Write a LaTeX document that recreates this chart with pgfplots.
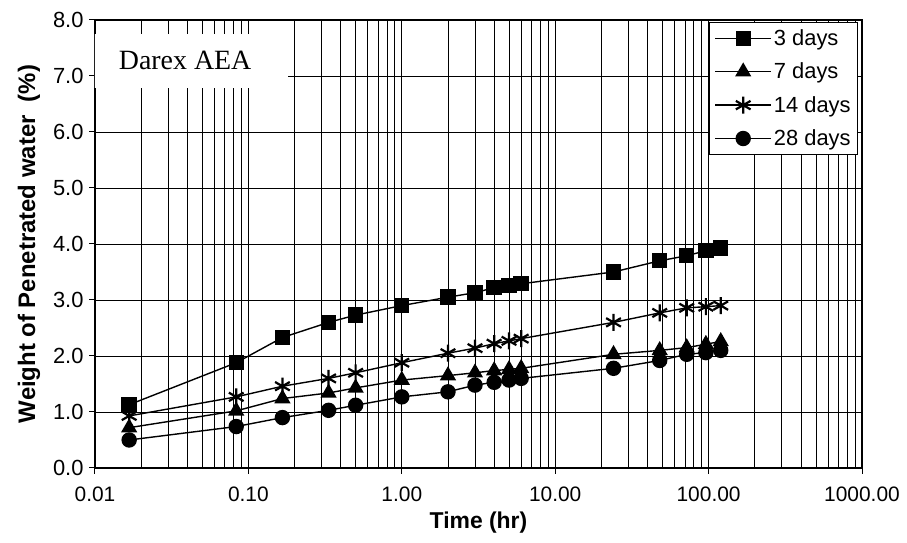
\documentclass[border=0pt]{standalone}
\usepackage{fontspec}
\setmainfont{Liberation Sans}
\newfontfamily\seriffont{Liberation Serif}
\usepackage{pgfplots}
\pgfplotsset{compat=1.18}
\usetikzlibrary{calc}
\begin{document}
\begin{tikzpicture}
\begin{axis}[
  scale only axis, width=767bp, height=448bp,
  xmode=log, xmin=0.01, xmax=1000, ymin=0, ymax=8,
  xtick={0.01,0.1,1,10,100,1000},
  xticklabels={0.01,0.10,1.00,10.00,100.00,1000.00},
  minor xtick={0.02,0.03,0.04,0.05,0.06,0.07,0.08,0.09,0.2,0.3,0.4,0.5,0.6,0.7,0.8,0.9,2,3,4,5,6,7,8,9,20,30,40,50,60,70,80,90,200,300,400,500,600,700,800,900},
  ytick={0,1,2,3,4,5,6,7,8},
  yticklabels={0.0,1.0,2.0,3.0,4.0,5.0,6.0,7.0,8.0},
  xmajorgrids, xminorgrids, ymajorgrids,
  major grid style={black, line width=0.8bp},
  minor grid style={black, line width=0.6bp},
  axis line style={line width=1.6bp},
  tick align=outside, xtick pos=left, ytick pos=left,
  major tick length=6bp, minor tick length=0bp,
  tick style={black, line width=1bp},
  xticklabel style={font=\fontsize{21}{24}\selectfont, yshift=-9bp},
  yticklabel style={font=\fontsize{22}{24}\selectfont, xshift=-2bp},
  xlabel={\bfseries Time (hr)},
  ylabel={\bfseries Weight of Penetrated water\ \ (\%)},
  label style={font=\fontsize{23}{26}\selectfont},
  xlabel style={yshift=-4bp},
  ylabel style={font=\fontsize{24}{26}\selectfont, yshift=6bp},
  legend style={at={(0.995,0.995)}, anchor=north east, draw=black, line width=1bp, fill=white,
    font=\fontsize{22}{24}\selectfont, row sep=12bp, inner sep=5bp},
  legend cell align=left,
  legend image code/.code={\draw[mark repeat=2,mark phase=2,#1] plot coordinates {(0bp,0bp) (28bp,0bp) (56bp,0bp)};},
  every axis plot/.append style={black, line width=1.4bp},
]
\addplot[mark=square*, mark size=7bp] coordinates {
(0.0167,1.13)(0.0833,1.88)(0.1667,2.33)(0.3333,2.60)(0.5,2.73)(1,2.90)(2,3.05)(3,3.13)(4,3.22)(5,3.26)(6,3.29)(24,3.50)(48,3.70)(72,3.79)(96,3.88)(120,3.93)};
\addlegendentry{3 days}
\addplot[mark=triangle*, mark size=8bp] coordinates {
(0.0167,0.72)(0.0833,1.02)(0.1667,1.24)(0.3333,1.34)(0.5,1.43)(1,1.57)(2,1.65)(3,1.70)(4,1.74)(5,1.76)(6,1.78)(24,2.03)(48,2.10)(72,2.15)(96,2.21)(120,2.26)};
\addlegendentry{7 days}
\addplot[mark=asterisk, mark size=8.5bp, mark options={line width=2.2bp}] coordinates {
(0.0167,0.93)(0.0833,1.27)(0.1667,1.46)(0.3333,1.60)(0.5,1.70)(1,1.88)(2,2.05)(3,2.14)(4,2.22)(5,2.27)(6,2.31)(24,2.60)(48,2.77)(72,2.86)(96,2.88)(120,2.90)};
\addlegendentry{14 days}
\addplot[mark=*, mark size=7bp] coordinates {
(0.0167,0.50)(0.0833,0.74)(0.1667,0.90)(0.3333,1.03)(0.5,1.12)(1,1.27)(2,1.36)(3,1.48)(4,1.53)(5,1.57)(6,1.60)(24,1.78)(48,1.92)(72,2.03)(96,2.06)(120,2.10)};
\addlegendentry{28 days}
\node[fill=white, minimum width=205bp, minimum height=54bp, inner sep=0pt, font=\seriffont\fontsize{28}{32}\selectfont] at (axis cs:0.0387,7.27) {Darex AEA};
\end{axis}
\path ($(current axis.south west)+(-95bp,-75bp)$) rectangle ($(current axis.north east)+(45bp,20bp)$);
\end{tikzpicture}
\end{document}
